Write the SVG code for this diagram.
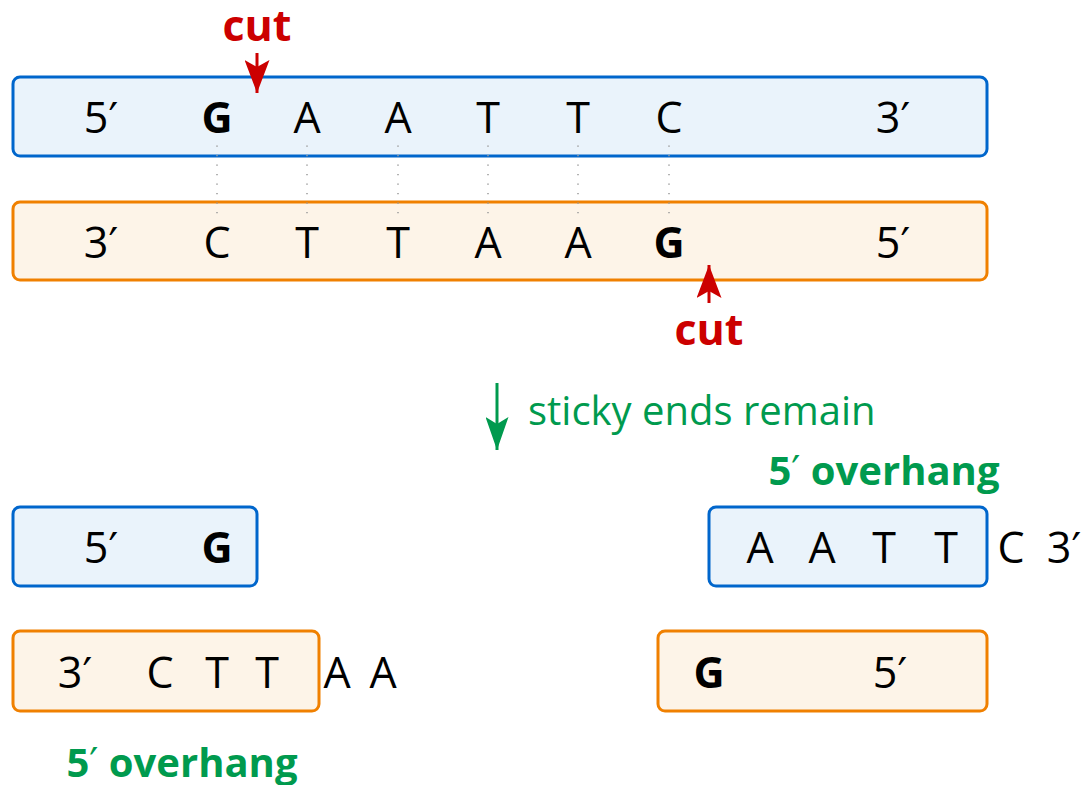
<svg xmlns="http://www.w3.org/2000/svg" width="1085" height="785" viewBox="0 0 1085 785">
<defs>
<style>
.b{fill:#eaf3fb;stroke:#0066cc;stroke-width:3}
.o{fill:#fdf4e8;stroke:#f08000;stroke-width:3}
text{font-family:"Open Sans","Noto Sans",sans-serif}
.n{font-size:43px;fill:#000;text-anchor:middle}
.nb{font-size:43px;fill:#000;text-anchor:middle;font-weight:bold}
.cut{font-size:43px;fill:#cc0000;font-weight:bold;text-anchor:middle}
.ov{font-size:40px;fill:#009a4e;font-weight:bold;text-anchor:middle}
.st{font-size:40px;fill:#009a4e}
.p{font-family:"DejaVu Sans",sans-serif;font-weight:normal}
.dot{stroke:#999;stroke-width:1.5;stroke-dasharray:1.2 8.3}
</style>
<marker id="ar" viewBox="0 0 33 25" refX="33" refY="12.5" markerWidth="33" markerHeight="25" orient="auto" markerUnits="userSpaceOnUse"><path d="M0,0 L33,12.5 L0,25 L7,12.5 z" fill="#cc0000"/></marker>
<marker id="ag" viewBox="0 0 33 23" refX="33" refY="11.5" markerWidth="33" markerHeight="23" orient="auto" markerUnits="userSpaceOnUse"><path d="M0,0 L33,11.5 L0,23 L7,11.5 z" fill="#009a4e"/></marker>
</defs>
<g id="top-strand">
<rect class="b" x="13" y="77" width="974" height="79" rx="7"/>
<text class="n" x="101" y="133">5<tspan class="p">′</tspan></text>
<text class="nb" x="217" y="133">G</text>
<text class="n" x="307" y="133">A</text>
<text class="n" x="398" y="133">A</text>
<text class="n" x="488" y="133">T</text>
<text class="n" x="578" y="133">T</text>
<text class="n" x="669" y="133">C</text>
<text class="n" x="893" y="133">3<tspan class="p">′</tspan></text>
</g>
<g id="bottom-strand">
<rect class="o" x="13" y="202" width="974" height="78" rx="7"/>
<text class="n" x="101" y="258">3<tspan class="p">′</tspan></text>
<text class="n" x="217" y="258">C</text>
<text class="n" x="307" y="258">T</text>
<text class="n" x="398" y="258">T</text>
<text class="n" x="488" y="258">A</text>
<text class="n" x="578" y="258">A</text>
<text class="nb" x="669" y="258">G</text>
<text class="n" x="893" y="258">5<tspan class="p">′</tspan></text>
</g>
<g id="connectors">
<line class="dot" x1="217" y1="145.5" x2="217" y2="214"/>
<line class="dot" x1="307" y1="145.5" x2="307" y2="214"/>
<line class="dot" x1="398" y1="145.5" x2="398" y2="214"/>
<line class="dot" x1="488" y1="145.5" x2="488" y2="214"/>
<line class="dot" x1="578" y1="145.5" x2="578" y2="214"/>
<line class="dot" x1="669" y1="145.5" x2="669" y2="214"/>
<line x1="257" y1="53" x2="257" y2="93" stroke="#cc0000" stroke-width="3" marker-end="url(#ar)"/>
<line x1="709" y1="303" x2="709" y2="265" stroke="#cc0000" stroke-width="3" marker-end="url(#ar)"/>
<line x1="497" y1="383" x2="497" y2="450" stroke="#009a4e" stroke-width="3" marker-end="url(#ag)"/>
</g>
<g id="labels">
<text class="cut" x="257" y="41">cut</text>
<text class="cut" x="709" y="345">cut</text>
<text class="st" x="528" y="425">sticky ends remain</text>
<text class="ov" x="884" y="485">5<tspan class="p">′</tspan> overhang</text>
<text class="ov" x="182" y="777">5<tspan class="p">′</tspan> overhang</text>
</g>
<g id="frag-left-top">
<rect class="b" x="13" y="507" width="244" height="79" rx="7"/>
<text class="n" x="101" y="563">5<tspan class="p">′</tspan></text>
<text class="nb" x="217" y="563">G</text>
</g>
<g id="frag-left-bottom">
<rect class="o" x="13" y="631" width="306" height="80" rx="7"/>
<text class="n" x="75" y="688">3<tspan class="p">′</tspan></text>
<text class="n" x="160" y="688">C</text>
<text class="n" x="217" y="688">T</text>
<text class="n" x="267" y="688">T</text>
<text class="n" x="337" y="688">A</text>
<text class="n" x="383" y="688">A</text>
</g>
<g id="frag-right-top">
<rect class="b" x="709" y="507" width="278" height="79" rx="7"/>
<text class="n" x="760" y="563">A</text>
<text class="n" x="822" y="563">A</text>
<text class="n" x="884" y="563">T</text>
<text class="n" x="946" y="563">T</text>
<text class="n" x="1011" y="563">C</text>
<text class="n" x="1064" y="563">3<tspan class="p">′</tspan></text>
</g>
<g id="frag-right-bottom">
<rect class="o" x="658" y="631" width="329" height="80" rx="7"/>
<text class="nb" x="709" y="688">G</text>
<text class="n" x="890" y="688">5<tspan class="p">′</tspan></text>
</g>
</svg>
